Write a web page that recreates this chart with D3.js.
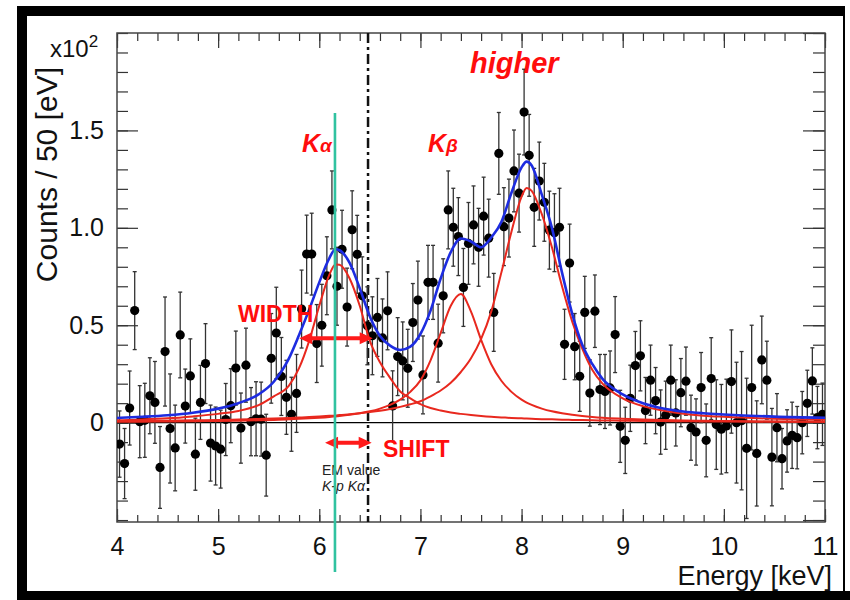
<!DOCTYPE html>
<html>
<head>
<meta charset="utf-8">
<script src="https://cdn.jsdelivr.net/npm/d3@7"></script>
<style>
body { margin: 0; background: #fff; }
svg { display: block; font-family: "Liberation Sans", Arial, Helvetica, sans-serif; }
</style>
</head>
<body>
<div id="chart"></div>
<script>
// spectrum, 50 eV bins from 4.0 keV, counts in units of 10^2
var binStart = 4.0;
var binWidth = 0.05;
var counts = [
  -0.11, -0.21, 0.075, 0.575, 0.005, 0.012, 0.138, 0.104, -0.23, 0.365,
  -0.03, -0.13, 0.45, 0.085, 0.24, -0.162, 0.104, 0.303, -0.105, -0.12,
  -0.136, 0.016, 0.087, 0.28, -0.028, 0.295, 0.005, 0.02, 0.018, -0.167,
  0.33, 0.46, 0.237, 0.13, 0.043, 0.15, 0.583, 0.865, 0.865, 0.406,
  0.50, 0.754, 1.092, 0.70, 0.89, 0.593, 0.99, 0.864, 0.651, 0.497,
  0.446, 0.54, 0.435, 0.574, 0.086, 0.339, 0.317, 0.279, 0.514, 0.629,
  0.245, 0.72, 0.72, 0.408, 0.651, 1.092, 1.003, 0.955, 0.694, 0.92,
  1.015, 0.90, 1.06, 0.947, 0.566, 1.382, 1.006, 1.05, 1.292, 1.178,
  1.594, 1.372, 1.105, 1.24, 1.131, 0.988, 0.975, 1.003, 0.402, 0.819,
  0.39, 0.238, 0.566, 0.152, 0.572, 0.17, 0.16, 0.178, 0.452, -0.019,
  -0.091, 0.125, 0.293, 0.343, 0.062, 0.218, 0.113, 0.003, 0.038, 0.218,
  0.05, 0.154, 0.213, -0.026, -0.048, 0.18, -0.091, 0.226, -0.01, -0.034,
  -0.017, 0.211, 0.0, 0.01, -0.132, 0.18, -0.158, 0.322, 0.218, -0.177,
  -0.026, -0.185, -0.094, -0.065, -0.077, 0.0, 0.099, 0.214, 0.026, 0.043
];
var errors = [
  0.17, 0.18, 0.19, 0.20, 0.185, 0.19, 0.195, 0.21, 0.21, 0.28,
  0.28, 0.22, 0.22, 0.19, 0.19, 0.185, 0.19, 0.205, 0.195, 0.20,
  0.20, 0.185, 0.19, 0.19, 0.18, 0.19, 0.175, 0.19, 0.19, 0.21,
  0.23, 0.235, 0.20, 0.19, 0.19, 0.20, 0.20, 0.20, 0.21, 0.20,
  0.21, 0.20, 0.20, 0.20, 0.20, 0.20, 0.20, 0.20, 0.20, 0.20,
  0.20, 0.20, 0.20, 0.20, 0.18, 0.20, 0.20, 0.20, 0.20, 0.20,
  0.20, 0.19, 0.19, 0.20, 0.19, 0.20, 0.20, 0.20, 0.20, 0.21,
  0.20, 0.20, 0.20, 0.20, 0.20, 0.21, 0.20, 0.20, 0.21, 0.20,
  0.22, 0.21, 0.20, 0.20, 0.20, 0.20, 0.20, 0.20, 0.18, 0.20,
  0.17, 0.18, 0.185, 0.17, 0.186, 0.18, 0.19, 0.19, 0.195, 0.185,
  0.17, 0.17, 0.175, 0.18, 0.17, 0.18, 0.17, 0.165, 0.175, 0.18,
  0.17, 0.175, 0.175, 0.167, 0.17, 0.18, 0.187, 0.21, 0.23, 0.23,
  0.24, 0.265, 0.31, 0.355, 0.36, 0.32, 0.27, 0.225, 0.20, 0.25,
  0.175, 0.155, 0.16, 0.17, 0.16, 0.16, 0.17, 0.17, 0.16, 0.16
];

// fit curves
var fitEnergy = [4.0, 4.25, 4.5, 4.75, 5.0, 5.2, 5.4, 5.55, 5.7, 5.8, 5.9, 6.0, 6.1, 6.16, 6.2, 6.3, 6.4, 6.5, 6.6, 6.7,
  6.8, 6.9, 7.0, 7.1, 7.2, 7.3, 7.4, 7.5, 7.6, 7.7, 7.8, 7.9, 8.0, 8.05, 8.1, 8.2, 8.3, 8.4, 8.5, 8.6,
  8.7, 8.8, 9.0, 9.2, 9.4, 9.6, 9.8, 10.0, 10.5, 11.0];
var fitTotal = [0.024, 0.030, 0.038, 0.051, 0.072, 0.10, 0.145, 0.21, 0.33, 0.45, 0.58, 0.72, 0.845, 0.89, 0.885, 0.82, 0.69, 0.545, 0.445, 0.395,
  0.373, 0.39, 0.455, 0.575, 0.74, 0.875, 0.945, 0.93, 0.90, 0.95, 1.03, 1.18, 1.31, 1.34, 1.32, 1.17, 1.0, 0.77, 0.56, 0.40,
  0.30, 0.225, 0.145, 0.10, 0.073, 0.057, 0.048, 0.042, 0.031, 0.025];
var fitKa = [0.012, 0.016, 0.022, 0.032, 0.045, 0.06, 0.09, 0.135, 0.19, 0.28, 0.42, 0.60, 0.76, 0.812, 0.81, 0.74, 0.60, 0.42, 0.31, 0.23,
  0.16, 0.125, 0.095, 0.075, 0.062, 0.052, 0.045, 0.039, 0.034, 0.030, 0.027, 0.024, 0.022, 0.021, 0.020, 0.018, 0.017, 0.015, 0.014, 0.013,
  0.012, 0.011, 0.010, 0.009, 0.008, 0.007, 0.0065, 0.006, 0.005, 0.004];
var fitKb = [0.004, 0.005, 0.006, 0.007, 0.009, 0.010, 0.012, 0.014, 0.017, 0.020, 0.022, 0.025, 0.029, 0.032, 0.034, 0.040, 0.048, 0.058, 0.072, 0.091,
  0.118, 0.158, 0.217, 0.32, 0.46, 0.60, 0.66, 0.57, 0.425, 0.30, 0.215, 0.158, 0.118, 0.103, 0.091, 0.072, 0.058, 0.048, 0.040, 0.034,
  0.029, 0.025, 0.020, 0.016, 0.013, 0.011, 0.0095, 0.008, 0.0055, 0.004];
var fitHigher = [0.008, 0.009, 0.010, 0.012, 0.014, 0.016, 0.019, 0.021, 0.024, 0.026, 0.029, 0.032, 0.035, 0.037, 0.039, 0.043, 0.048, 0.054, 0.061, 0.070,
  0.081, 0.094, 0.11, 0.135, 0.165, 0.205, 0.26, 0.33, 0.43, 0.57, 0.77, 0.98, 1.16, 1.205, 1.19, 1.07, 0.90, 0.70, 0.52, 0.38,
  0.27, 0.20, 0.125, 0.085, 0.062, 0.046, 0.036, 0.030, 0.020, 0.015];

var xTickValues = [4, 5, 6, 7, 8, 9, 10, 11];
var yTickValues = [0, 0.5, 1.0, 1.5];
var yTickLabels = ["0", "0.5", "1.0", "1.5"];

var measuredKa = 6.155;   // green line
var emKa = 6.482;         // dash-dot line

var svg = d3.select('#chart').append('svg').attr("width", 850).attr("height", 600);

var x = d3.scaleLinear().domain([4, 11]).range([117, 825]);
var y = d3.scaleLinear().domain([-0.51, 2.0]).range([522, 33]);

// slide frame
svg.append("rect").attr("x", 17).attr("y", 6).attr("width", 828).attr("height", 10).attr("fill", "#000");
svg.append("rect").attr("x", 17).attr("y", 6).attr("width", 10).attr("height", 594).attr("fill", "#000");
svg.append("rect").attr("x", 17).attr("y", 591).attr("width", 833).attr("height", 9).attr("fill", "#000");
svg.append("rect").attr("x", 843).attr("y", 6).attr("width", 2).attr("height", 590).attr("fill", "#000");

svg.append("clipPath").attr("id", "plotclip")
  .append("rect").attr("x", 117).attr("y", 33).attr("width", 708).attr("height", 489);

// axes (ticks point inward)
function styleAxis(g) {
  g.select(".domain").remove();
  g.selectAll(".tick line").attr("stroke", "#333").attr("stroke-width", 1.2);
  g.selectAll(".tick text").attr("font-size", 25).attr("fill", "#111")
    .attr("font-family", "Liberation Sans, Arial, sans-serif");
}
var xMinor = d3.range(4, 11.001, 0.2);
var yMinor = d3.range(-0.5, 2.001, 0.1);

svg.append("g").attr("transform", "translate(0,522)")
  .call(d3.axisBottom(x).tickValues(xMinor).tickSizeInner(-7).tickSizeOuter(0).tickFormat(""))
  .call(styleAxis);
svg.append("g").attr("transform", "translate(0,522)")
  .call(d3.axisBottom(x).tickValues(xTickValues).tickSizeInner(-13).tickSizeOuter(0).tickPadding(15).tickFormat(d3.format("d")))
  .call(styleAxis);
svg.append("g").attr("transform", "translate(0,33)")
  .call(d3.axisTop(x).tickValues(xMinor).tickSizeInner(-8).tickSizeOuter(0).tickFormat(""))
  .call(styleAxis);
svg.append("g").attr("transform", "translate(0,33)")
  .call(d3.axisTop(x).tickValues(xTickValues).tickSizeInner(-15).tickSizeOuter(0).tickFormat(""))
  .call(styleAxis);
svg.append("g").attr("transform", "translate(117,0)")
  .call(d3.axisLeft(y).tickValues(yMinor).tickSizeInner(-11).tickSizeOuter(0).tickFormat(""))
  .call(styleAxis);
svg.append("g").attr("transform", "translate(117,0)")
  .call(d3.axisLeft(y).tickValues(yTickValues).tickSizeInner(-21).tickSizeOuter(0).tickPadding(13)
    .tickFormat(function(d, i) { return yTickLabels[i]; }))
  .call(styleAxis);
svg.append("g").attr("transform", "translate(825,0)")
  .call(d3.axisRight(y).tickValues(yMinor).tickSizeInner(-12).tickSizeOuter(0).tickFormat(""))
  .call(styleAxis);
svg.append("g").attr("transform", "translate(825,0)")
  .call(d3.axisRight(y).tickValues([-0.5, 0, 0.5, 1.0, 1.5, 2.0]).tickSizeInner(-22).tickSizeOuter(0).tickFormat(""))
  .call(styleAxis);

svg.append("rect").attr("x", 117).attr("y", 33).attr("width", 708).attr("height", 489)
  .attr("fill", "none").attr("stroke", "#444").attr("stroke-width", 1.5);

// zero line
svg.append("line").attr("x1", x(4)).attr("x2", x(11)).attr("y1", y(0)).attr("y2", y(0))
  .attr("stroke", "#000").attr("stroke-width", 1.3);

// EM value line
svg.append("line").attr("x1", x(emKa)).attr("x2", x(emKa)).attr("y1", y(2.0)).attr("y2", y(-0.51))
  .attr("stroke", "#111").attr("stroke-width", 2.5).attr("stroke-dasharray", "10,4,3,4");

// data points
var points = counts.map(function(v, i) { return { e: binStart + binWidth * (i + 0.5), v: v, err: errors[i] }; });
var data = svg.append("g").attr("clip-path", "url(#plotclip)");

data.selectAll("line.bar").data(points).enter().append("line").attr("class", "bar")
  .attr("x1", function(d) { return x(d.e); }).attr("x2", function(d) { return x(d.e); })
  .attr("y1", function(d) { return y(d.v - d.err); }).attr("y2", function(d) { return y(d.v + d.err); })
  .attr("stroke", "#333").attr("stroke-width", 1.3);
data.selectAll("line.capt").data(points).enter().append("line").attr("class", "capt")
  .attr("x1", function(d) { return x(d.e) - 2; }).attr("x2", function(d) { return x(d.e) + 2; })
  .attr("y1", function(d) { return y(d.v + d.err); }).attr("y2", function(d) { return y(d.v + d.err); })
  .attr("stroke", "#333").attr("stroke-width", 1.3);
data.selectAll("line.capb").data(points).enter().append("line").attr("class", "capb")
  .attr("x1", function(d) { return x(d.e) - 2; }).attr("x2", function(d) { return x(d.e) + 2; })
  .attr("y1", function(d) { return y(d.v - d.err); }).attr("y2", function(d) { return y(d.v - d.err); })
  .attr("stroke", "#333").attr("stroke-width", 1.3);
data.selectAll("circle").data(points).enter().append("circle")
  .attr("cx", function(d) { return x(d.e); }).attr("cy", function(d) { return y(d.v); })
  .attr("r", 4.6).attr("fill", "#000");

// fit curves
var line = d3.line()
  .x(function(d, i) { return x(fitEnergy[i]); })
  .y(function(d) { return y(d); })
  .curve(d3.curveMonotoneX);

var curves = svg.append("g").attr("clip-path", "url(#plotclip)").attr("fill", "none");
[fitKa, fitKb, fitHigher].forEach(function(c) {
  curves.append("path").attr("d", line(c)).attr("stroke", "#e8281e").attr("stroke-width", 2);
});
curves.append("path").attr("d", line(fitTotal)).attr("stroke", "#1d2ce0").attr("stroke-width", 2.6);

// arrows
function arrow(e1, e2, v) {
  var x1 = x(e1), x2 = x(e2), yy = y(v), hl = 13, hh = 6, t = 2;
  var p = "M" + x1 + "," + yy +
    "L" + (x1 + hl) + "," + (yy - hh) + "L" + (x1 + hl) + "," + (yy - t) +
    "L" + (x2 - hl) + "," + (yy - t) + "L" + (x2 - hl) + "," + (yy - hh) +
    "L" + x2 + "," + yy +
    "L" + (x2 - hl) + "," + (yy + hh) + "L" + (x2 - hl) + "," + (yy + t) +
    "L" + (x1 + hl) + "," + (yy + t) + "L" + (x1 + hl) + "," + (yy + hh) + "Z";
  svg.append("path").attr("d", p).attr("fill", "#ff1a1a");
}
arrow(5.802, 6.528, 0.433);
arrow(6.057, 6.518, -0.103);

// labels
var red = "#ff0d0d";
var ka = svg.append("text").attr("x", 302).attr("y", 152).attr("fill", red)
  .attr("font-size", 25).attr("font-weight", "bold").attr("font-style", "italic").text("K");
ka.append("tspan").attr("font-size", 19).text("α");
var kb = svg.append("text").attr("x", 428).attr("y", 152).attr("fill", red)
  .attr("font-size", 25).attr("font-weight", "bold").attr("font-style", "italic").text("K");
kb.append("tspan").attr("font-size", 19).text("β");
svg.append("text").attr("x", 470).attr("y", 73).attr("fill", red)
  .attr("font-size", 29).attr("font-weight", "bold").attr("font-style", "italic").text("higher");
svg.append("text").attr("x", 238).attr("y", 322).attr("fill", red)
  .attr("font-size", 23).attr("font-weight", "bold").text("WIDTH");
svg.append("text").attr("x", 383).attr("y", 457).attr("fill", red)
  .attr("font-size", 23).attr("font-weight", "bold").text("SHIFT");
svg.append("text").attr("x", 322).attr("y", 475).attr("fill", "#222")
  .attr("font-size", 14).text("EM value");
svg.append("text").attr("x", 322).attr("y", 491).attr("fill", "#222")
  .attr("font-size", 14).attr("font-style", "italic").text("K-p Kα");

// measured Kalpha line
svg.append("line").attr("x1", x(measuredKa)).attr("x2", x(measuredKa)).attr("y1", y(1.59)).attr("y2", y(-0.767))
  .attr("stroke", "#30c2a0").attr("stroke-width", 2.6);

// axis titles
var mult = svg.append("text").attr("x", 50).attr("y", 57).attr("font-size", 24).attr("fill", "#111").text("x10");
mult.append("tspan").attr("font-size", 17).attr("dy", -10).text("2");
svg.append("text").attr("transform", "translate(57,67) rotate(-90)").attr("text-anchor", "end")
  .attr("font-size", 30).attr("fill", "#111").text("Counts / 50 [eV]");
svg.append("text").attr("x", 832).attr("y", 585).attr("text-anchor", "end")
  .attr("font-size", 27).attr("fill", "#111").text("Energy [keV]");
</script>
</body>
</html>
